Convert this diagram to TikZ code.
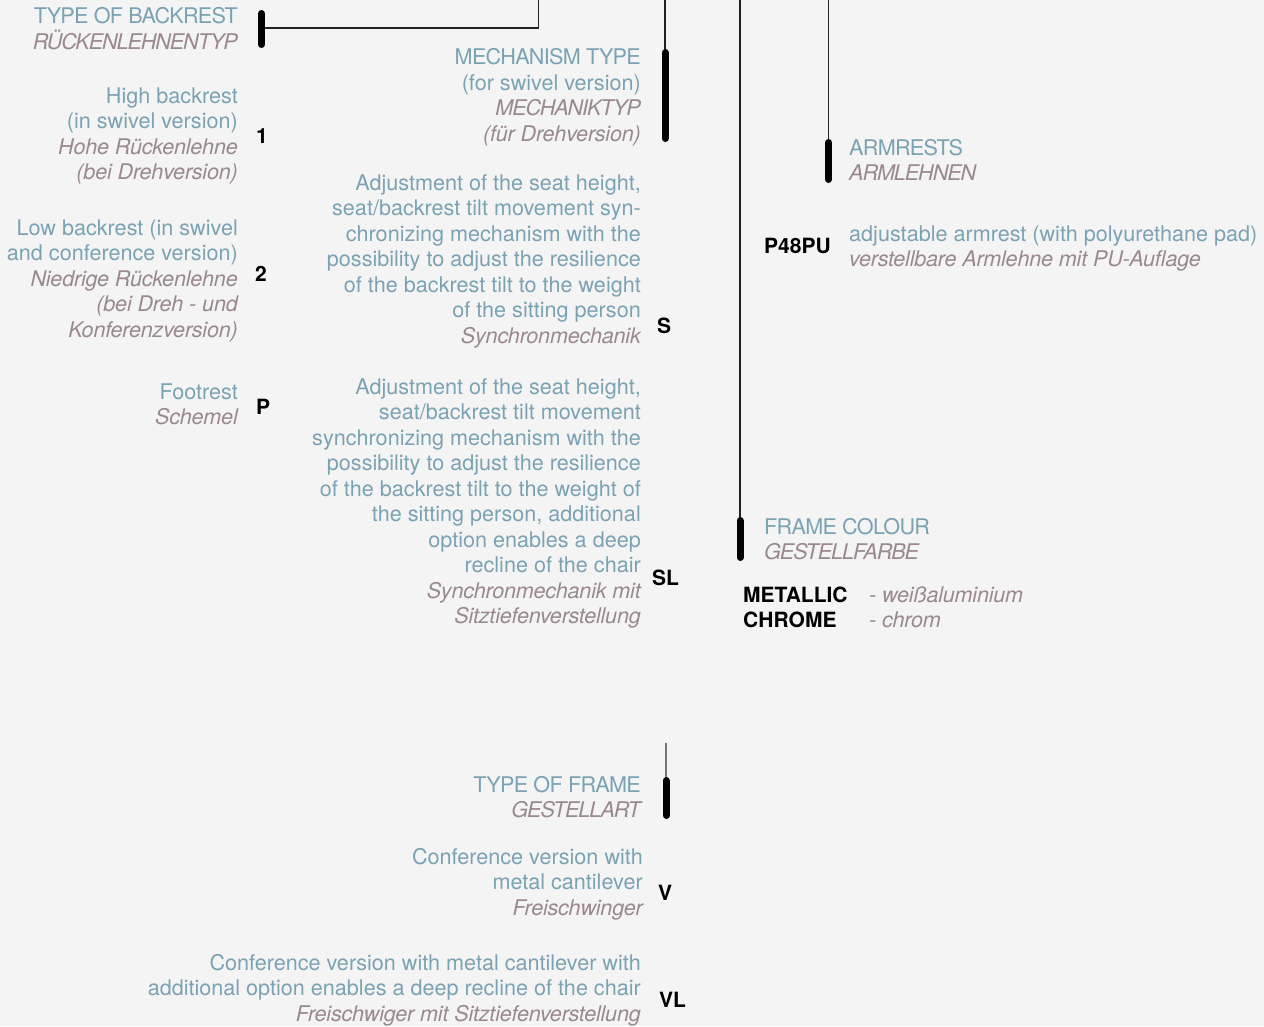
\documentclass[tikz,border=0pt]{standalone}
\usepackage{fontspec}
\setmainfont{TeX Gyre Heros}
\usetikzlibrary{positioning}

\definecolor{bgcol}{HTML}{F4F4F4}
\definecolor{engcol}{HTML}{7BA2B3}
\definecolor{gercol}{HTML}{9A8891}
\definecolor{leadcol}{HTML}{222222}
\definecolor{leadgray}{HTML}{777777}
\newcommand{\germ}[1]{{\color{gercol}\itshape\addfontfeature{LetterSpace=-1}#1}}
\newcommand{\capsen}[1]{{\addfontfeature{LetterSpace=-3.3}#1}}
\newcommand{\capsde}[1]{{\color{gercol}\itshape\addfontfeature{LetterSpace=-5}#1}}

\tikzset{
  txt/.style={inner sep=0pt, text=engcol, font=\fontsize{21.6}{25.5}\selectfont},
  lefttxt/.style={txt, align=right, anchor=base east},
  righttxt/.style={txt, align=left, anchor=base west},
  code/.style={inner sep=0pt, anchor=base west, font=\fontsize{21}{25.5}\selectfont\bfseries},
  bar/.style={line width=7pt, line cap=round},
  lead/.style={line width=1.3pt, leadcol}
}

\begin{document}
\begin{tikzpicture}[x=1pt,y=-1pt]
  \useasboundingbox[fill=bgcol] (0,0) rectangle (1264,1026);

  % backrest (nodes sit on the baseline of their last line)
  \node[lefttxt] (backrest) at (238,49) {\capsen{TYPE OF BACKREST}\\\capsde{RÜCKENLEHNENTYP}};
  \node[lefttxt] (high) at (238,179.5) {High backrest\\(in swivel version)\\\germ{Hohe Rückenlehne}\\\germ{(bei Drehversion)}};
  \node[code] (c1) at (256,143) {1};
  \node[lefttxt] (low) at (238,337) {Low backrest (in swivel\\and conference version)\\\germ{Niedrige Rückenlehne}\\\germ{(bei Dreh - und}\\\germ{Konferenzversion)}};
  \node[code] (c2) at (255,281) {2};
  \node[lefttxt] (foot) at (238,424.5) {Footrest\\\germ{Schemel}};
  \node[code] (cP) at (256,414) {P};

  % mechanism
  \node[lefttxt] (mech) at (641,141) {\capsen{MECHANISM TYPE}\\(for swivel version)\\\capsde{MECHANIKTYP}\\\germ{(für Drehversion)}};
  \node[lefttxt] (sync) at (641,343) {Adjustment of the seat height,\\seat/backrest tilt movement syn-\\chronizing mechanism with the\\possibility to adjust the resilience\\of the backrest tilt to the weight\\of the sitting person\\\germ{Synchronmechanik}};
  \node[code] (cS) at (657,333) {S};
  \node[lefttxt] (synclong) at (641,623.5) {Adjustment of the seat height,\\seat/backrest tilt movement\\synchronizing mechanism with the\\possibility to adjust the resilience\\of the backrest tilt to the weight of\\the sitting person, additional\\option enables a deep\\recline of the chair\\\germ{Synchronmechanik mit}\\\germ{Sitztiefenverstellung}};
  \node[code] (cSL) at (652,585) {SL};

  % frame type
  \node[lefttxt] (frametype) at (641,817.5) {\capsen{TYPE OF FRAME}\\\capsde{GESTELLART}};
  \node[lefttxt] (conf) at (643,915) {Conference version with\\metal cantilever\\\germ{Freischwinger}};
  \node[code] (cV) at (658,900) {V};
  \node[lefttxt] (confrec) at (641,1021) {Conference version with metal cantilever with\\additional option enables a deep recline of the chair\\\germ{Freischwiger mit Sitztiefenverstellung}};
  \node[code] (cVL) at (659,1007) {VL};

  % armrests
  \node[righttxt] (arm) at (849,180.5) {\capsen{ARMRESTS}\\\capsde{ARMLEHNEN}};
  \node[code] (cP48) at (764,253) {P48PU};
  \node[righttxt] (armadj) at (849,266.5) {adjustable armrest (with polyurethane pad)\\\germ{verstellbare Armlehne mit PU-Auflage}};

  % frame colour
  \node[righttxt] (colour) at (764,559.5) {\capsen{FRAME COLOUR}\\\capsde{GESTELLFARBE}};
  \node[code, align=left] (metal) at (743,627.5) {METALLIC\\CHROME};
  \node[righttxt] (metalde) at (869,627.5) {\germ{- weißaluminium}\\\germ{- chrom}};

  % leads and bars
  \coordinate (backrest top) at (538.5,0);
  \coordinate (backrest a) at (261.5,13.5);
  \coordinate (backrest b) at (261.5,44.5);
  \coordinate (backrest mid) at (261.5,28);
  \coordinate (mech top) at (665,0);
  \coordinate (mech a) at (665,52.5);
  \coordinate (mech b) at (665,138.5);
  \coordinate (colour top) at (740,0);
  \coordinate (colour a) at (740,520.5);
  \coordinate (colour b) at (740,557.5);
  \coordinate (arm top) at (828.5,0);
  \coordinate (arm a) at (828.5,142.5);
  \coordinate (arm b) at (828.5,179.5);
  \coordinate (frametype top) at (666,743);
  \coordinate (frametype a) at (666,780.5);
  \coordinate (frametype b) at (666,815.5);

  \draw[lead] (backrest mid) -| (backrest top);
  \draw[lead] (mech top) -- (mech a);
  \draw[lead] (colour top) -- (colour a);
  \draw[lead] (arm top) -- (arm a);
  \draw[lead, leadgray] (frametype top) -- (frametype a);
  \draw[bar] (backrest a) -- (backrest b);
  \draw[bar] (mech a) -- (mech b);
  \draw[bar] (colour a) -- (colour b);
  \draw[bar] (arm a) -- (arm b);
  \draw[bar] (frametype a) -- (frametype b);
\end{tikzpicture}
\end{document}
